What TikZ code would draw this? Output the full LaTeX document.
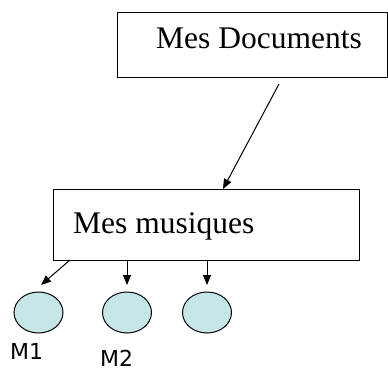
\documentclass[tikz,border=0pt]{standalone}
\usepackage{fontspec}
\setmainfont{Liberation Serif}
\newfontfamily\labfont{DejaVu Sans}
\usetikzlibrary{arrows.meta,shapes.geometric}
\definecolor{bubble}{RGB}{197,229,230}
\tikzset{
  boxstyle/.style={draw=black, line width=1bp, rectangle, inner sep=0pt},
  bigtext/.style={font=\fontsize{31.5bp}{36bp}\selectfont, inner sep=0pt, anchor=base west},
  leaf/.style={draw=black, fill=bubble, line width=1bp, ellipse, minimum width=49bp, minimum height=41bp, inner sep=0pt},
  labtext/.style={font=\labfont\fontsize{22bp}{26bp}\selectfont, inner sep=0pt, anchor=base west},
  conn/.style={draw=black, line width=1bp, -{Triangle[length=10bp,width=8bp]}}
}
\begin{document}
\begin{tikzpicture}[x=1bp,y=-1bp]
\useasboundingbox (0,0) rectangle (388,370);
% boxes
\node[boxstyle, minimum width=269bp, minimum height=65bp] (docbox) at (252.5,44.5) {};
\node[bigtext] (docs) at (156,48) {Mes Documents};
\node[boxstyle, minimum width=305bp, minimum height=71bp] (musbox) at (206.5,224.5) {};
\node[bigtext] (mus) at (73,233) {Mes musiques};
% ellipses
\node[leaf] (e1) at (38.5,312.5) {};
\node[leaf] (e2) at (127,312.5) {};
\node[leaf] (e3) at (207,312.5) {};
% labels
\node[labtext] (l1) at (10,359) {M1};
\node[labtext] (l2) at (100,366) {M2};
% connector coordinates
\coordinate (a0) at (279,84);
\coordinate (a1) at (223,189);
\coordinate (b0) at (70,260);
\coordinate (b1) at (41,285);
\coordinate (c0) at (127,260);
\coordinate (c1) at (127,285);
\coordinate (d0) at (207,260);
\coordinate (d1) at (207,285);
\draw[conn] (a0) -- (a1);
\draw[conn] (b0) -- (b1);
\draw[conn] (c0) -- (c1);
\draw[conn] (d0) -- (d1);
\end{tikzpicture}
\end{document}
